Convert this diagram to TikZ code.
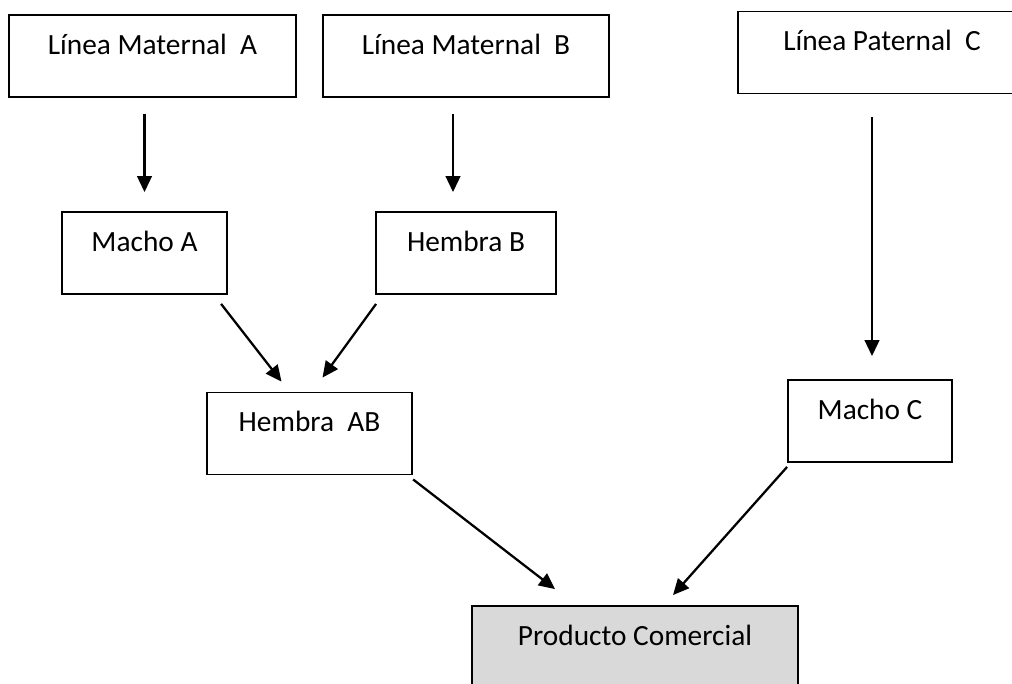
\documentclass[tikz,border=0pt]{standalone}
\usepackage{fontspec}
\setmainfont{Carlito}
\usetikzlibrary{arrows.meta}

\begin{document}
\begin{tikzpicture}[x=0.75pt, y=-0.75pt,
    box/.style={draw, line width=1.4pt, rectangle, inner xsep=0pt, inner ysep=0pt,
        text height=29.5pt, text depth=32pt,
        font=\fontsize{22}{26}\selectfont},
    arr/.style={line width=1.7pt, -{Triangle[length=12pt, width=11pt]}}]
            \useasboundingbox (0,0) rectangle (1012,684);
            % Define boxes
            \node[box, minimum width=215pt] (LA) at (152.5, 56) {Línea Maternal\ \ A};
            \node[box, minimum width=214.5pt] (LB) at (466, 56) {Línea Maternal\ \ B};
            \node[box, minimum width=216pt] (LC) at (882, 52.5) {Línea Paternal\ \ C};
            \node[box, minimum width=124pt] (MA) at (144.5, 253) {Macho A};
            \node[box, minimum width=135pt] (HB) at (466, 253) {Hembra B};
            \node[box, minimum width=154pt] (HAB) at (309.5, 433.5) {Hembra\ \ AB};
            \node[box, minimum width=123pt] (MC) at (870, 421) {Macho C};
            \node[box, minimum width=244.5pt, fill={rgb,255:red,217;green,217;blue,217}] (PC) at (635, 647) {Producto Comercial};
            % Draw arrows between the boxes
            \draw[arr] ([shift={(-8,16)}]LA.south) -- ([shift={(0,-19)}]MA.north);
            \draw[arr] ([shift={(-13,16)}]LB.south) -- ([shift={(-13,-19)}]HB.north);
            \draw[arr] ([shift={(-10,23)}]LC.south) -- ([shift={(2,-23)}]MC.north);
            \draw[arr] ([shift={(-7,9)}]MA.south east) -- ([shift={(-28,-10)}]HAB.north);
            \draw[arr] ([shift={(1,9)}]HB.south west) -- ([shift={(13,-14)}]HAB.north);
            \draw[arr] ([shift={(0,4)}]HAB.south east) -- ([shift={(-80,-16)}]PC.north);
            \draw[arr] ([shift={(0,4)}]MC.south west) -- ([shift={(38,-10)}]PC.north);
        \end{tikzpicture}
\end{document}
